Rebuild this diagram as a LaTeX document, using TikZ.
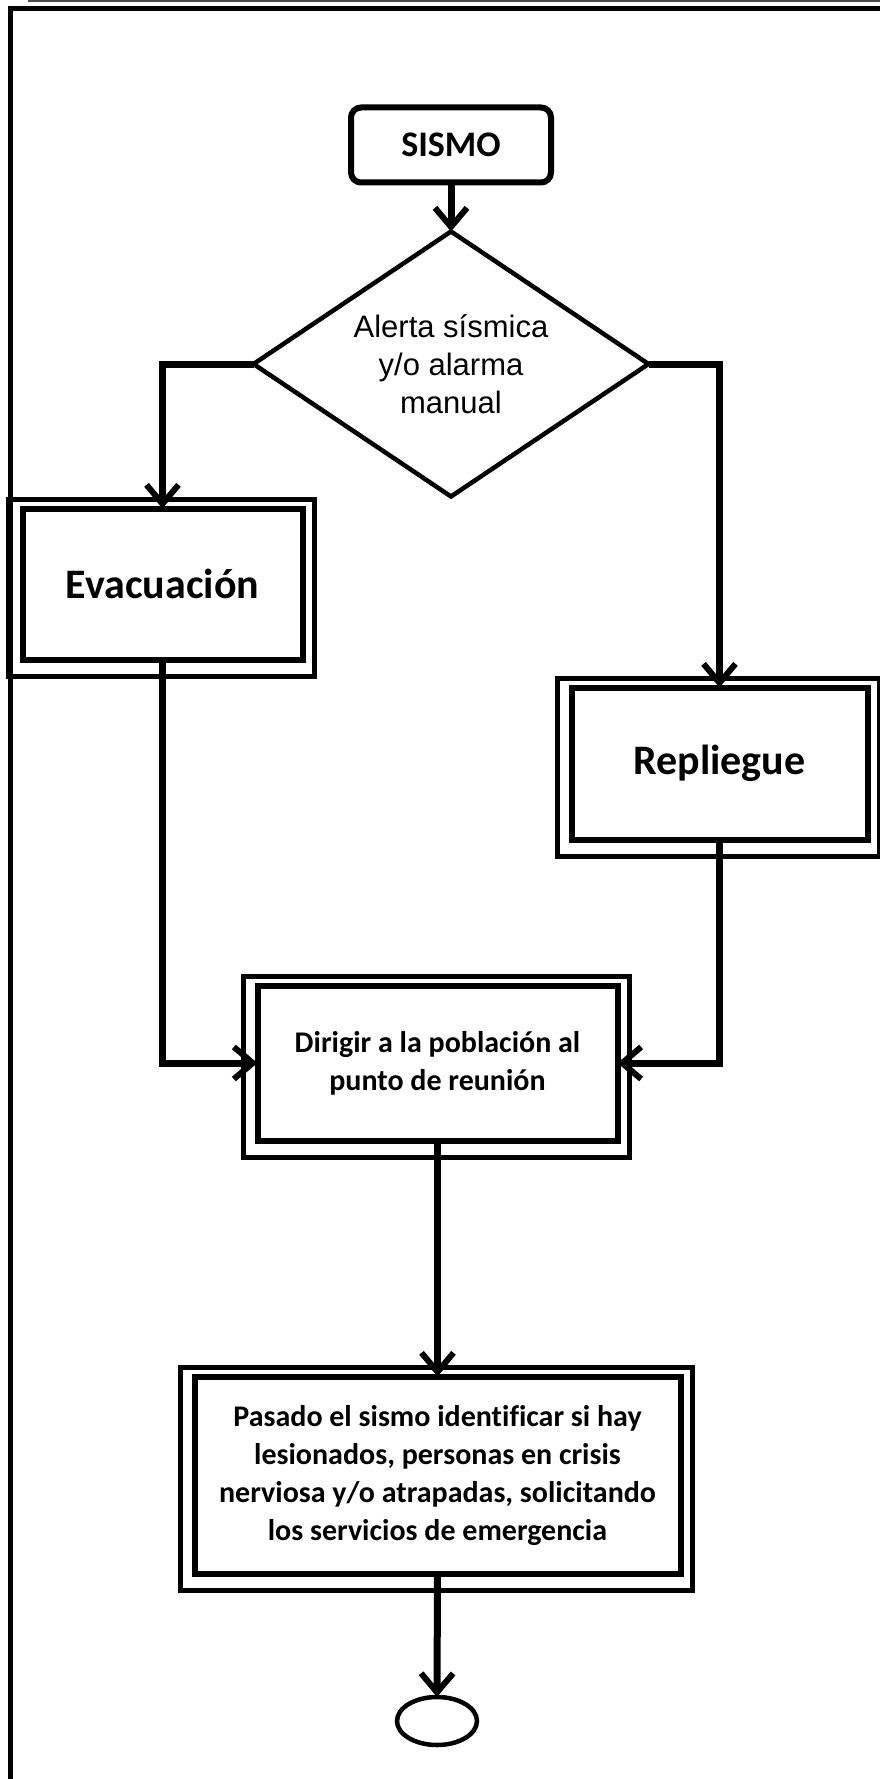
\documentclass[tikz,border=0pt]{standalone}
\usepackage{fontspec}
\setmainfont{Carlito}[Ligatures=NoCommon]
\newfontfamily\arialfont{Liberation Sans}
\usetikzlibrary{arrows.meta,shapes.geometric}

\tikzset{
  caja/.style={draw, line width=6pt, inner sep=0pt, outer sep=0pt, align=center, font=\bfseries\fontsize{30}{38}\selectfont},
  marco/.style={draw, line width=4.5pt},
  flecha/.style={line width=7pt, -{Straight Barb[length=19pt,width=32pt,line width=6pt]}},
}

\begin{document}
\begin{tikzpicture}[x=1pt,y=-1pt]
\useasboundingbox (0,0) rectangle (880,1779);
\draw [line width=1.5pt, black!70] (28,1) -- (880,1);
\draw [line width=5pt] (10.5,1790) -- (10.5,8.5) -- (890,8.5);

\node [caja, rounded corners=10pt, minimum width=200pt, minimum height=75pt, font=\bfseries\fontsize{36}{40}\selectfont] (sismo) at (451,145) {SISMO};
\node [diamond, draw, line width=4.5pt, inner sep=0pt, outer sep=0pt, aspect=1.5, minimum width=395pt, minimum height=265pt, align=center, font=\arialfont\fontsize{31}{38}\selectfont] (alerta) at (451,364) {Alerta sísmica\\y/o alarma\\manual};

\node [caja, minimum width=280pt, minimum height=151pt, font=\bfseries\fontsize{42}{48}\selectfont] (ev) at (162.5,584) {Evacuación};
\node [caja, minimum width=296pt, minimum height=152pt, font=\bfseries\fontsize{42}{48}\selectfont] (rep) at (719.5,763.5) {Repliegue};
\node [caja, minimum width=360pt, minimum height=155pt] (dir) at (437.5,1063) {Dirigir a la población al\\punto de reunión};
\node [caja, minimum width=486pt, minimum height=197pt] (pas) at (437.5,1475) {Pasado el sismo identificar si hay\\lesionados, personas en crisis\\nerviosa y/o atrapadas, solicitando\\los servicios de emergencia};
\node [ellipse, draw, line width=4.5pt, inner sep=0pt, outer sep=0pt, minimum width=80pt, minimum height=48pt] (fin) at (437,1721) {};

\foreach \n in {ev,rep,dir,pas}
  \draw [marco] ([shift={(-14,-9)}]\n.north west) rectangle ([shift={(12,17)}]\n.south east);

\draw [flecha] (sismo.south) -- (alerta.north);
\draw [flecha] (alerta.west) -| (ev.north);
\draw [flecha] (alerta.east) -| (rep.north);
\draw [flecha] (ev.south) |- (dir.west);
\draw [flecha] (rep.south) |- (dir.east);
\draw [flecha] (dir.south) -- (pas.north);
\draw [flecha] (pas.south) -- (fin.north);

\end{tikzpicture}
\end{document}
